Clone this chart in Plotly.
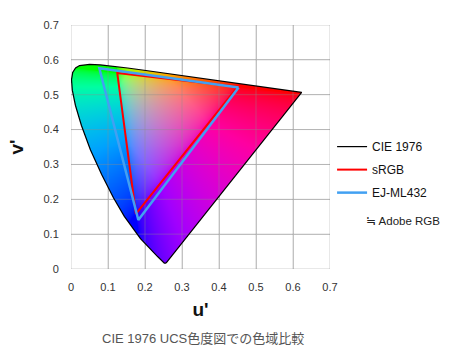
import base64, struct, zlib
import numpy as np
import plotly.graph_objects as go

# ---- data (CIE 1976 u', v') ----
locus_u = [0.2568, 0.2522, 0.2347, 0.2161, 0.1877, 0.1441, 0.1147, 0.0828, 0.0521,
           0.0282, 0.0119, 0.0035, 0.0014, 0.0046, 0.0123, 0.0231, 0.0360, 0.0501,
           0.0792, 0.1127, 0.1531, 0.2026, 0.2623, 0.3315, 0.4035, 0.4692, 0.5203,
           0.5830, 0.6234]
locus_v = [0.0166, 0.0169, 0.0350, 0.0549, 0.0871, 0.1510, 0.2044, 0.2708, 0.3427,
           0.4117, 0.4698, 0.5131, 0.5432, 0.5638, 0.5770, 0.5837, 0.5861, 0.5868,
           0.5856, 0.5821, 0.5766, 0.5694, 0.5604, 0.5501, 0.5393, 0.5296, 0.5219,
           0.5125, 0.5065]
srgb_u = [0.4507, 0.1250, 0.1754]
srgb_v = [0.5229, 0.5625, 0.1579]
ej_u = [0.4530, 0.0766, 0.1820]
ej_v = [0.5210, 0.5760, 0.1406]
tick_vals = [0, 0.1, 0.2, 0.3, 0.4, 0.5, 0.6, 0.7]
tick_text = ["0", "0.1", "0.2", "0.3", "0.4", "0.5", "0.6", "0.7"]
series_names = ["CIE 1976", "sRGB", "EJ-ML432"]
note_text = "≒ Adobe RGB"
caption = "CIE 1976 UCS色度図での色域比較"

# ---- colour fill image of the chromaticity region ----
NX, NY = 520, 490
UMAX = VMAX = 0.7
du, dv = UMAX / NX, VMAX / NY
uu = (np.arange(NX) + 0.5) * du
vv = (np.arange(NY) + 0.5) * dv
U, V = np.meshgrid(uu, vv)  # row 0 = smallest v

pu = np.array(locus_u + [locus_u[0]])
pv = np.array(locus_v + [locus_v[0]])
inside = np.zeros(U.shape, dtype=bool)
for i in range(len(pu) - 1):
    u1, v1, u2, v2 = pu[i], pv[i], pu[i + 1], pv[i + 1]
    cond = (v1 > V) != (v2 > V)
    with np.errstate(divide="ignore", invalid="ignore"):
        xint = u1 + (V - v1) * (u2 - u1) / (v2 - v1)
    inside ^= cond & (U < xint)

den = 6 * U - 16 * V + 12
cx = 9 * U / den
cy = np.maximum(4 * V / den, 1e-6)
X = cx / cy
Y = np.ones_like(X)
Z = (1 - cx - cy) / cy
R = 3.2406 * X - 1.5372 * Y - 0.4986 * Z
G = (-0.9689 * X + 1.8758 * Y + 0.0415 * Z) * 0.85
B = 0.0557 * X - 0.2040 * Y + 1.0570 * Z
rgb = np.clip(np.stack([R, G, B], axis=-1), 0, None)
rgb = 1.35 * rgb / np.maximum(rgb.sum(axis=-1, keepdims=True), 1e-9)
rgb = rgb / np.maximum(rgb.max(axis=-1, keepdims=True), 1.0)
rgb = np.where(rgb <= 0.0031308, 12.92 * rgb, 1.055 * np.power(rgb, 1 / 2.4) - 0.055)
img = np.zeros((NY, NX, 4), dtype=np.uint8)
img[..., :3] = np.clip(rgb * 255, 0, 255).astype(np.uint8)
img[..., 3] = np.where(inside, 255, 0).astype(np.uint8)


def png_bytes(a):
    h, w, _ = a.shape
    raw = b"".join(b"\x00" + a[r].tobytes() for r in range(h))

    def chunk(t, d):
        c = struct.pack(">I", len(d)) + t + d
        return c + struct.pack(">I", zlib.crc32(t + d) & 0xFFFFFFFF)

    return (b"\x89PNG\r\n\x1a\n" + chunk(b"IHDR", struct.pack(">IIBBBBB", w, h, 8, 6, 0, 0, 0))
            + chunk(b"IDAT", zlib.compress(raw, 9)) + chunk(b"IEND", b""))


src = "data:image/png;base64," + base64.b64encode(png_bytes(img)).decode()

fig = go.Figure()
fig.add_trace(go.Image(source=src, x0=du / 2, dx=du, y0=dv / 2, dy=dv, hoverinfo="skip"))

# grid lines drawn over the colour fill
gx, gy = [], []
for t in tick_vals:
    gx += [t, t, None]; gy += [0, 0.7, None]
    gx += [0, 0.7, None]; gy += [t, t, None]
fig.add_trace(go.Scatter(x=gx, y=gy, mode="lines", line=dict(color="rgba(140,140,140,0.4)", width=1),
                         hoverinfo="skip", showlegend=False))

fig.add_trace(go.Scatter(x=locus_u + [locus_u[0]], y=locus_v + [locus_v[0]], mode="lines",
                         name=series_names[0], legendgroup="a",
                         line=dict(color="#000000", width=1.2)))
fig.add_trace(go.Scatter(x=srgb_u + [srgb_u[0]], y=srgb_v + [srgb_v[0]], mode="lines",
                         name=series_names[1], legendgroup="b",
                         line=dict(color="#ff0000", width=2)))
fig.add_trace(go.Scatter(x=ej_u + [ej_u[0]], y=ej_v + [ej_v[0]], mode="lines",
                         name=series_names[2], legendgroup="c",
                         line=dict(color="#42a0f2", width=2.5)))

axis_common = dict(range=[0, 0.7], tickvals=tick_vals, ticktext=tick_text,
                   showgrid=True, gridcolor="#d0d0d0", gridwidth=1, zeroline=False,
                   showline=False, ticks="outside", tickcolor="rgba(0,0,0,0)",
                   tickfont=dict(family="Liberation Sans, Arial", size=11, color="#333"),
                   fixedrange=True, constrain="range")

fig.update_layout(
    width=450, height=355,
    margin=dict(l=71, r=120, t=25, b=86),
    paper_bgcolor="white", plot_bgcolor="white",
    font=dict(family="Liberation Sans, Arial", color="#222"),
    xaxis=dict(**axis_common, ticklen=8,
               title=dict(text="u'", font=dict(size=19, color="#111", weight="bold"), standoff=10)),
    yaxis=dict(**axis_common, ticklen=9, autorange=False, scaleanchor=False,
               title=dict(text="v'", font=dict(size=19, color="#111", weight="bold"), standoff=14)),
    legend=dict(x=1.008, xanchor="left", y=0.561, yanchor="top", tracegroupgap=4,
                font=dict(size=12, color="#111"), bgcolor="rgba(0,0,0,0)"),
    showlegend=True,
    annotations=[
        dict(text=note_text, xref="paper", yref="paper", x=(364 - 71) / 259, y=(269 - 221) / 244,
             xanchor="left", yanchor="middle", showarrow=False, font=dict(size=11.5, color="#222")),
        dict(text=caption, xref="paper", yref="paper", x=(203 - 71) / 259, y=-(338 - 269) / 244,
             xanchor="center", yanchor="middle", showarrow=False,
             font=dict(size=13, color="#555", family="Liberation Sans, Noto Sans CJK JP")),
    ],
)

fig.write_html("out.html", config={"displayModeBar": False},
               post_script="document.body.style.margin='0px';")
